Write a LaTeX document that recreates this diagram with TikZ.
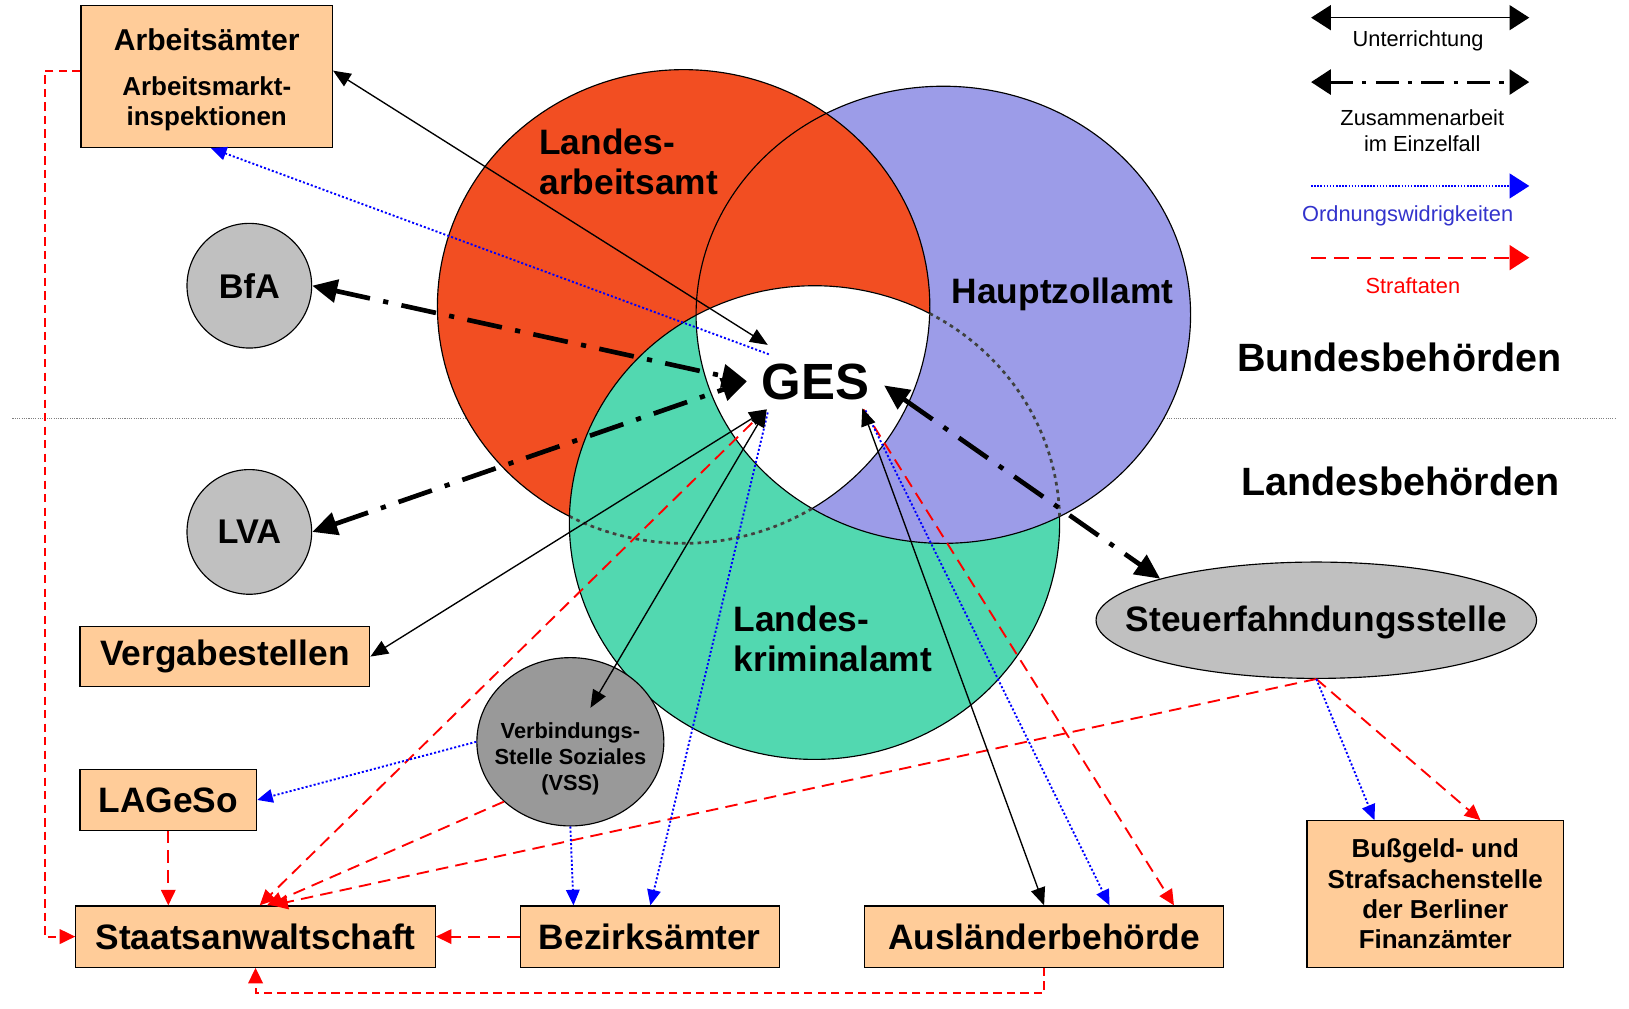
\documentclass[tikz,border=0pt]{standalone}
\usepackage{fontspec}
\setmainfont{Liberation Sans}
\usetikzlibrary{arrows.meta,shapes.geometric}
\definecolor{peach}{HTML}{FFCC99}
\definecolor{redf}{HTML}{F24E22}
\definecolor{bluef}{HTML}{9C9CE8}
\definecolor{greenf}{HTML}{52D8B0}
\definecolor{grayA}{HTML}{C0C0C0}
\definecolor{grayB}{HTML}{999999}
\definecolor{owiblue}{HTML}{3333CC}
\begin{document}
\begin{tikzpicture}[x=1pt,y=-1pt,
  lbl/.style={font=\bfseries\fontsize{34}{38}\selectfont, inner sep=0pt},
  leg/.style={font=\fontsize{21}{25}\selectfont, inner sep=0pt},
  box/.style={draw=black, line width=1.1pt, fill=peach, inner sep=0pt, font=\bfseries\fontsize{34}{38}\selectfont},
  circ/.style={draw=black, line width=1.1pt, fill=grayA, circle, minimum size=120pt, inner sep=0pt, font=\bfseries\fontsize{33}{38}\selectfont},
  unt/.style={line width=1.3pt, {Triangle[length=17pt,width=14pt]}-{Triangle[length=17pt,width=14pt]}},
  zus/.style={line width=4.5pt, dash pattern=on 34pt off 13pt on 5pt off 13pt, {Triangle[length=24pt,width=22pt]}-{Triangle[length=24pt,width=22pt]}},
  owi/.style={blue, line width=1.8pt, dash pattern=on 2pt off 2pt, -{Triangle[length=15pt,width=13pt]}},
  stra/.style={red, line width=1.8pt, dash pattern=on 12pt off 7pt, -{Triangle[length=15pt,width=14pt]}},
  strb/.style={red, line width=2pt, dash pattern=on 8pt off 5pt, -{Triangle[length=15pt,width=14pt]}},
  hid/.style={line width=2.6pt, dash pattern=on 3.5pt off 4pt, black!75},
  outl/.style={line width=1.1pt},
  ]
\useasboundingbox (0,0) rectangle (1568,971);
\fill[white] (0,0) rectangle (1568,971);
% separator
\coordinate (sepL) at (12,403);
\coordinate (sepR) at (1555,403);
\draw[gray, line width=0.8pt, dash pattern=on 1pt off 1.2pt] (sepL) -- (sepR);
% Venn fills
\fill[bluef] (908,303) ellipse [x radius=238, y radius=220];
\fill[greenf] (784,503) ellipse [x radius=236, y radius=228];
\fill[redf] (658,295) ellipse [x radius=237, y radius=228];
\begin{scope}
  \clip (658,295) ellipse [x radius=237, y radius=228];
  \fill[greenf] (784,503) ellipse [x radius=236, y radius=228];
\end{scope}
\begin{scope}
  \clip (784,503) ellipse [x radius=236, y radius=228];
  \fill[bluef] (908,303) ellipse [x radius=238, y radius=220];
\end{scope}
\begin{scope}
  \clip (658,295) ellipse [x radius=237, y radius=228];
  \clip (784,503) ellipse [x radius=236, y radius=228];
  \fill[white] (908,303) ellipse [x radius=238, y radius=220];
\end{scope}
% Venn outlines
\draw[outl] (908,303) ellipse [x radius=238, y radius=220];
\draw[outl] plot[domain=117.6:418.6, samples=150, variable=\t] ({658+237*cos(\t)},{295+228*sin(\t)});
\draw[hid] plot[domain=58.6:117.6, samples=60, variable=\t] ({658+237*cos(\t)},{295+228*sin(\t)});
\draw[outl] plot[domain=-1.5:298, samples=150, variable=\t] ({784+236*cos(\t)},{503+228*sin(\t)});
\draw[hid] plot[domain=-62:-1.5, samples=60, variable=\t] ({784+236*cos(\t)},{503+228*sin(\t)});
% circle labels
\node[lbl, align=left, anchor=west] (lat) at (519,156) {Landes-\\arbeitsamt};
\node[lbl, anchor=west] (hza) at (916,283) {Hauptzollamt};
\node[lbl, align=left, anchor=west] (lka) at (706,615) {Landes-\\kriminalamt};
\node[lbl, font=\bfseries\fontsize{49}{55}\selectfont] (ges) at (785,368) {GES};
\node[lbl, font=\bfseries\fontsize{38}{42}\selectfont] (bund) at (1347,344) {Bundesbehörden};
\node[lbl, font=\bfseries\fontsize{38}{42}\selectfont] (land) at (1348,463) {Landesbehörden};
% nodes
\node[box, minimum width=242pt, minimum height=137pt] (arb) at (199,73.5) {};
\node[lbl, font=\bfseries\fontsize{29}{33}\selectfont] (arbt1) at (199,38) {Arbeitsämter};
\node[lbl, align=center, font=\bfseries\fontsize{25}{29}\selectfont] (arbt2) at (199,100) {Arbeitsmarkt-\\inspektionen};
\node[circ] (bfa) at (240,275) {BfA};
\node[circ] (lva) at (240,512) {LVA};
\node[box, minimum width=279pt, minimum height=58pt] (verg) at (216.5,632) {Vergabestellen};
\node[box, minimum width=170pt, minimum height=58pt] (lag) at (162,770) {LAGeSo};
\node[box, minimum width=346pt, minimum height=59pt] (sta) at (246,901.5) {Staatsanwaltschaft};
\node[box, minimum width=249pt, minimum height=59pt] (bez) at (625.5,901.5) {Bezirksämter};
\node[box, minimum width=346pt, minimum height=59pt] (aus) at (1005,901.5) {Ausländerbehörde};
\node[box, minimum width=247pt, minimum height=141pt, align=center, font=\bfseries\fontsize{25}{29.3}\selectfont] (bus) at (1381.5,860.5) {Bußgeld- und\\Strafsachenstelle\\der Berliner\\Finanzämter};
\node[ellipse, draw, line width=1.1pt, fill=grayB, minimum width=180pt, minimum height=162pt, inner sep=0pt] (vss) at (549,714) {};
\node[lbl, align=center, font=\bfseries\fontsize{21}{25}\selectfont] (vsst) at (549,730) {Verbindungs-\\Stelle Soziales\\(VSS)};
\node[ellipse, draw, line width=1.1pt, fill=grayA, minimum width=424pt, minimum height=112pt, inner sep=0pt] (st) at (1267,597) {};
\node[lbl] (stt) at (1267,599) {Steuerfahndungsstelle};
% GES contact points
\coordinate (gA) at (739,332);
\coordinate (gO1) at (740,341);
\coordinate (gL) at (719,367);
\coordinate (gB) at (738,394);
\coordinate (gO4) at (739,397);
\coordinate (gS3) at (724,407);
\coordinate (gR) at (830,393);
\coordinate (gO5) at (833,395);
\coordinate (gS5) at (831,394);
\coordinate (gE) at (851,371);
% red dashed (Straftaten)
\draw[stra] (st.south) -- (1425,0 |- bus.north);
\draw[stra] (st.south) -- (262,0 |- sta.north);
\draw[stra] (gS3) -- (250,0 |- sta.north);
\draw[stra] (vss.222) -- (257,0 |- sta.north);
\draw[stra] (gS5) -- (1130,0 |- aus.north);
\draw[stra] (lag.south) -- (lag.south |- sta.north);
\draw[stra] (bez.west) -- (sta.east);
\draw[strb] (arb.west |- 0,68) -- (43,68) |- (sta.west);
\draw[strb] (aus.south) -- ++(0,24) -| (sta.south);
% blue dotted (Ordnungswidrigkeiten)
\draw[owi] (gO1) -- ([xshift=4pt]arb.south);
\draw[owi] (vss.west) -- (lag.east);
\draw[owi] (vss.south) -- (552,0 |- bez.north);
\draw[owi] (gO4) -- (626,0 |- bez.north);
\draw[owi] (gO5) -- (1068,0 |- aus.north);
\draw[owi] (st.south) -- (1323,0 |- bus.north);
% black solid (Unterrichtung)
\draw[unt] (arb.east |- 0,68) -- (gA);
\draw[unt] (verg.east) -- (gB);
\draw[unt, shorten >=38pt] (gB) -- (vss.center);
\draw[unt] (gR) -- (aus.north);
% dash-dot (Zusammenarbeit)
\draw[zus] (bfa.east) -- (gL);
\draw[zus] (lva.east) -- (gL);
\draw[zus] (gE) -- (st.north west);
% legend
\coordinate (l1a) at (1262,17); \coordinate (l1b) at (1472,17);
\coordinate (l2a) at (1262,79); \coordinate (l2b) at (1472,79);
\coordinate (l3a) at (1262,179); \coordinate (l3b) at (1472,179);
\coordinate (l4a) at (1262,248); \coordinate (l4b) at (1472,248);
\draw[line width=1.6pt, {Triangle[length=19pt,width=24pt]}-{Triangle[length=19pt,width=24pt]}] (l1a) -- (l1b);
\draw[line width=3pt, dash pattern=on 22pt off 9pt on 4pt off 9pt, {Triangle[length=19pt,width=24pt]}-{Triangle[length=19pt,width=24pt]}] (l2a) -- (l2b);
\draw[blue, line width=1.5pt, dash pattern=on 1.5pt off 1.5pt, -{Triangle[length=19pt,width=24pt]}] (l3a) -- (l3b);
\draw[red, line width=2pt, dash pattern=on 14pt off 8pt, -{Triangle[length=19pt,width=24pt]}] (l4a) -- (l4b);
\node[leg] (lt1) at (1365,39) {Unterrichtung};
\node[leg, align=center] (lt2) at (1369,126) {Zusammenarbeit\\im Einzelfall};
\node[leg, text=owiblue] (lt3) at (1355,208) {Ordnungswidrigkeiten};
\node[leg, text=red] (lt4) at (1360,275) {Straftaten};
\end{tikzpicture}
\end{document}
